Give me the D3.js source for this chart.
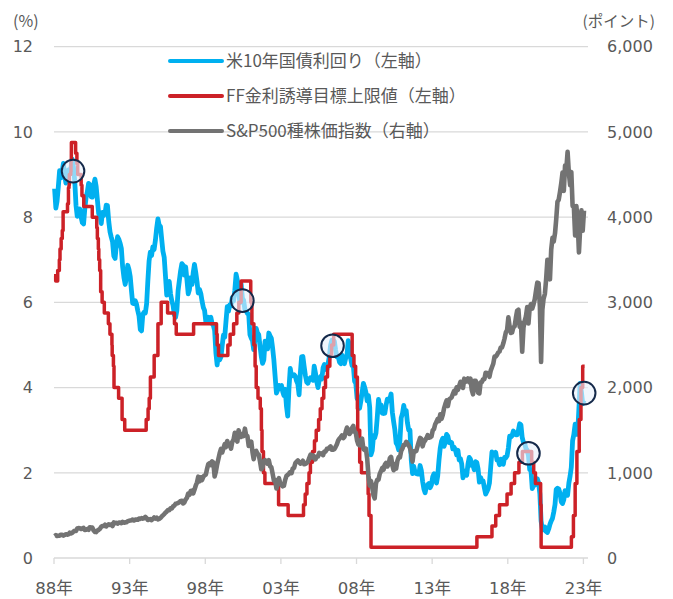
<!DOCTYPE html>
<html><head><meta charset="utf-8">
<script src="https://cdn.jsdelivr.net/npm/d3@7"></script>
<style>body{margin:0;background:#fff}svg{display:block}</style>
</head><body><svg id="c" width="673" height="599"></svg>
<script>
// ---- data ----
const seriesNames = ["米10年国債利回り（左軸）","FF金利誘導目標上限値（左軸）","S&P500種株価指数（右軸）"];
const leftTicks = [0,2,4,6,8,10,12];
const rightTicks = [0,1000,2000,3000,4000,5000,6000];
const rightTickLabels = ["0","1,000","2,000","3,000","4,000","5,000","6,000"];
const xTickYears = [1988,1993,1998,2003,2008,2013,2018,2023];
const xTickLabels = ["88年","93年","98年","03年","08年","13年","18年","23年"];
const monthlyStart = "1988-01"; // monthly series from Jan 1988 to Jan 2023

// US 10y Treasury yield, monthly (%)
const tsy10y = [
8.67,8.21,8.37,8.72,9.09,8.92,9.06,9.26,8.98,8.80,8.96,9.11,
9.09,9.17,9.36,9.18,8.86,8.28,8.02,8.11,8.19,8.01,7.87,7.84,
8.21,8.47,8.59,8.79,8.76,8.48,8.47,8.75,8.89,8.72,8.39,8.08,
8.09,7.85,8.11,8.04,8.07,8.28,8.27,7.90,7.65,7.53,7.42,7.09,
7.03,7.34,7.54,7.48,7.39,7.26,6.84,6.59,6.42,6.59,6.87,6.77,
6.60,6.26,5.98,5.97,6.04,5.96,5.81,5.68,5.36,5.33,5.72,5.77,
5.75,5.97,6.48,6.97,7.18,7.10,7.30,7.24,7.46,7.74,7.96,7.81,
7.78,7.47,7.20,7.06,6.63,6.17,6.28,6.49,6.20,6.04,5.93,5.71,
5.65,5.81,6.27,6.51,6.74,6.91,6.87,6.64,6.83,6.53,6.20,6.30,
6.58,6.42,6.69,6.89,6.71,6.49,6.22,6.30,6.21,6.03,5.88,5.81,
5.54,5.57,5.65,5.64,5.65,5.50,5.46,5.34,4.81,4.53,4.83,4.65,
4.72,5.00,5.23,5.18,5.54,5.90,5.79,5.94,5.92,6.11,6.03,6.28,
6.66,6.52,6.26,5.99,6.44,6.10,6.05,5.83,5.80,5.74,5.72,5.24,
5.16,5.10,4.89,5.14,5.39,5.28,5.24,4.97,4.73,4.57,4.65,5.09,
5.04,4.91,5.28,5.21,5.16,4.93,4.65,4.26,3.87,3.94,4.05,4.03,
4.05,3.90,3.81,3.96,3.57,3.33,3.98,4.45,4.27,4.29,4.30,4.27,
4.15,4.08,3.83,4.35,4.72,4.73,4.50,4.28,4.13,4.10,4.19,4.23,
4.22,4.17,4.50,4.34,4.14,4.00,4.18,4.26,4.20,4.46,4.54,4.47,
4.42,4.57,4.72,4.99,5.11,5.11,5.09,4.88,4.72,4.73,4.60,4.56,
4.76,4.72,4.56,4.69,4.75,5.10,5.00,4.67,4.52,4.53,4.15,4.10,
3.74,3.74,3.51,3.68,3.88,4.10,4.01,3.89,3.69,3.81,3.53,2.42,
2.52,2.87,2.82,2.93,3.29,3.72,3.56,3.59,3.40,3.39,3.40,3.59,
3.73,3.69,3.73,3.85,3.42,3.20,3.01,2.70,2.65,2.54,2.76,3.29,
3.39,3.58,3.41,3.46,3.17,3.00,3.00,2.30,1.98,2.15,2.01,1.98,
1.97,1.97,2.17,2.05,1.80,1.62,1.53,1.68,1.72,1.75,1.65,1.72,
1.91,1.98,1.96,1.76,1.93,2.30,2.58,2.74,2.81,2.62,2.72,2.90,
2.86,2.71,2.72,2.71,2.56,2.60,2.54,2.42,2.53,2.30,2.33,2.21,
1.88,1.98,2.04,1.94,2.20,2.36,2.32,2.17,2.17,2.07,2.26,2.24,
2.09,1.78,1.89,1.81,1.81,1.64,1.50,1.56,1.63,1.76,2.14,2.49,
2.43,2.42,2.48,2.30,2.30,2.19,2.32,2.21,2.20,2.36,2.35,2.40,
2.58,2.86,2.84,2.87,2.98,2.91,2.89,2.89,3.00,3.15,3.12,2.83,
2.71,2.68,2.57,2.53,2.40,2.07,2.06,1.63,1.70,1.71,1.81,1.86,
1.76,1.50,0.87,0.66,0.67,0.73,0.62,0.60,0.68,0.79,0.87,0.93,
1.08,1.26,1.61,1.64,1.62,1.52,1.32,1.28,1.37,1.58,1.56,1.47,
1.76,1.93,2.13,2.75,2.90,3.14,2.90,2.90,3.52,4.10,3.89,3.62,
3.70
];

// S&P 500 index, monthly
const spx = [
257.1,267.8,258.9,261.3,262.2,273.5,272.0,261.5,271.9,278.9,273.7,277.7,
297.5,288.9,294.9,309.6,320.5,317.9,346.1,351.5,349.2,340.4,346.0,353.4,
329.1,331.9,339.9,330.8,361.2,358.0,356.2,322.6,306.1,304.0,322.2,330.2,
343.9,367.1,375.2,375.3,389.8,371.2,387.8,395.4,387.9,392.5,375.2,417.1,
408.8,412.7,403.7,414.9,415.4,408.1,424.2,414.0,417.8,418.7,431.4,435.7,
438.8,443.4,451.7,440.2,450.2,450.5,448.1,463.6,458.9,467.8,461.8,466.5,
481.6,467.1,445.8,450.9,456.5,444.3,458.3,475.5,462.7,472.4,453.7,459.3,
470.4,487.4,500.7,514.7,533.4,544.8,562.1,561.9,584.4,581.5,605.4,615.9,
636.0,640.4,645.5,654.2,669.1,670.6,639.9,652.0,687.3,705.3,757.0,740.7,
786.2,791.0,757.1,801.3,848.3,885.1,954.3,899.5,947.3,914.6,955.4,970.4,
980.3,1049.3,1101.8,1111.8,1090.8,1133.8,1120.7,957.3,1017.0,1098.7,1163.6,1229.2,
1279.6,1238.3,1286.4,1335.2,1301.8,1372.7,1328.7,1320.4,1282.7,1362.9,1388.9,1469.3,
1394.5,1366.4,1498.6,1452.4,1420.6,1454.6,1430.8,1517.7,1436.5,1429.4,1315.2,1320.3,
1366.0,1239.9,1160.3,1249.5,1255.8,1224.4,1211.2,1133.6,1040.9,1059.8,1139.5,1148.1,
1130.2,1106.7,1147.4,1076.9,1067.1,989.8,911.6,916.1,815.3,885.8,936.3,879.8,
855.7,841.2,848.2,916.9,963.6,974.5,990.3,1008.0,996.0,1050.7,1058.2,1111.9,
1131.1,1144.9,1126.2,1107.3,1120.7,1140.8,1101.7,1104.2,1114.6,1130.2,1173.8,1211.9,
1181.3,1203.6,1180.6,1156.9,1191.5,1191.3,1234.2,1220.3,1228.8,1207.0,1249.5,1248.3,
1280.1,1280.7,1294.9,1310.6,1270.1,1270.2,1276.7,1303.8,1335.9,1377.9,1400.6,1418.3,
1438.2,1406.8,1420.9,1482.4,1530.6,1503.4,1455.3,1474.0,1526.8,1549.4,1481.1,1468.4,
1378.6,1330.6,1322.7,1385.6,1400.4,1280.0,1267.4,1282.8,1166.4,968.8,850.0,903.3,
825.9,735.1,700.0,872.8,919.1,919.3,987.5,1020.6,1057.1,1036.2,1095.6,1115.1,
1073.9,1104.5,1169.4,1186.7,1089.4,1030.7,1101.6,1049.3,1141.2,1183.3,1180.6,1257.6,
1286.1,1327.2,1325.8,1363.6,1345.2,1320.6,1292.3,1218.9,1131.4,1253.3,1247.0,1257.6,
1312.4,1365.7,1408.5,1397.9,1310.3,1362.2,1379.3,1406.6,1440.7,1412.2,1416.2,1426.2,
1498.1,1514.7,1569.2,1597.6,1630.7,1606.3,1685.7,1633.0,1681.6,1756.5,1805.8,1848.4,
1782.6,1859.5,1872.3,1884.0,1923.6,1960.2,1930.7,2003.4,1972.3,2018.1,2067.6,2058.9,
1995.0,2104.5,2067.9,2085.5,2107.4,2063.1,2103.8,1972.2,1920.0,2079.4,2080.4,2043.9,
1940.2,1932.2,2059.7,2065.3,2097.0,2098.9,2173.6,2171.0,2168.3,2126.2,2198.8,2238.8,
2278.9,2363.6,2362.7,2384.2,2411.8,2423.4,2470.3,2471.7,2519.4,2575.3,2647.6,2673.6,
2823.8,2713.8,2640.9,2648.1,2705.3,2718.4,2816.3,2901.5,2914.0,2711.7,2760.2,2420.0,
2704.1,2784.5,2834.4,2945.8,2752.1,2941.8,2980.4,2926.5,2976.7,3037.6,3141.0,3230.8,
3225.5,2954.2,2300.0,2912.4,3044.3,3100.3,3271.1,3500.3,3363.0,3270.0,3621.6,3756.1,
3714.2,3811.2,3972.9,4181.2,4204.1,4297.5,4395.3,4522.7,4307.5,4605.4,4567.0,4766.2,
4515.6,4373.9,4530.4,4131.9,4132.2,3785.4,4130.3,3955.0,3585.6,3872.0,4080.1,3839.5,
4076.6
];

// Fed funds target (upper bound), change dates and levels (%)
const ffDates = ["1988-01-01","1988-02-11","1988-03-30","1988-05-09","1988-05-25","1988-06-22","1988-07-19","1988-08-08","1988-11-22","1988-12-15","1988-12-29",
"1989-01-05","1989-02-09","1989-02-14","1989-02-23","1989-02-24","1989-06-06","1989-07-07","1989-07-27","1989-10-18","1989-11-06","1989-12-20",
"1990-07-13","1990-10-29","1990-11-13","1990-12-07","1990-12-18","1991-01-08","1991-02-01","1991-03-08","1991-04-30","1991-08-06","1991-09-13","1991-10-31","1991-11-06","1991-12-06","1991-12-20",
"1992-04-09","1992-07-02","1992-09-04","1994-02-04","1994-03-22","1994-04-18","1994-05-17","1994-08-16","1994-11-15","1995-02-01","1995-07-06","1995-12-19","1996-01-31","1997-03-25",
"1998-09-29","1998-10-15","1998-11-17","1999-06-30","1999-08-24","1999-11-16","2000-02-02","2000-03-21","2000-05-16",
"2001-01-03","2001-01-31","2001-03-20","2001-04-18","2001-05-15","2001-06-27","2001-08-21","2001-09-17","2001-10-02","2001-11-06","2001-12-11","2002-11-06","2003-06-25",
"2004-06-30","2004-08-10","2004-09-21","2004-11-10","2004-12-14","2005-02-02","2005-03-22","2005-05-03","2005-06-30","2005-08-09","2005-09-20","2005-11-01","2005-12-13",
"2006-01-31","2006-03-28","2006-05-10","2006-06-29","2007-09-18","2007-10-31","2007-12-11","2008-01-22","2008-01-30","2008-03-18","2008-04-30","2008-10-08","2008-10-29","2008-12-16",
"2015-12-17","2016-12-15","2017-03-16","2017-06-15","2017-12-14","2018-03-22","2018-06-14","2018-09-27","2018-12-20","2019-08-01","2019-09-19","2019-10-31",
"2020-03-04","2020-03-16","2022-03-17","2022-05-05","2022-06-16","2022-07-28","2022-09-22","2022-11-03","2022-12-15","2023-01-31"];
const ffUpper = [6.625,6.5,6.75,7.0,7.25,7.5,7.6875,8.125,8.3125,8.6875,8.75,
9.0,9.0625,9.3125,9.5625,9.75,9.5,9.25,9.0,8.75,8.5,8.25,
8.0,7.75,7.5,7.25,7.0,6.75,6.25,6.0,5.75,5.5,5.25,5.0,4.75,4.5,4.0,
3.75,3.25,3.0,3.25,3.5,3.75,4.25,4.75,5.5,6.0,5.75,5.5,5.25,5.5,
5.25,5.0,4.75,5.0,5.25,5.5,5.75,6.0,6.5,
6.0,5.5,5.0,4.5,4.0,3.75,3.5,3.0,2.5,2.0,1.75,1.25,1.0,
1.25,1.5,1.75,2.0,2.25,2.5,2.75,3.0,3.25,3.5,3.75,4.0,4.25,
4.5,4.75,5.0,5.25,4.75,4.5,4.25,3.5,3.0,2.25,2.0,1.5,1.0,0.25,
0.5,0.75,1.0,1.25,1.5,1.75,2.0,2.25,2.5,2.25,2.0,1.75,
1.25,0.25,0.5,1.0,1.75,2.5,3.25,4.0,4.5,4.5];

// highlighted points (circles)
const markDates = ["1989-04-05","2000-06-15","2006-06-01","2019-05-15","2023-01-20"];
const markValues = [9.08,6.04,4.98,2.46,3.87];

// ---- chart ----
const svg = d3.select("#c");
const parse = d3.timeParse("%Y-%m-%d");
const m0 = d3.timeParse("%Y-%m")(monthlyStart);
const monthDate = i => d3.timeDay.offset(d3.timeMonth.offset(m0, i), 14);

const x = d3.scaleTime().domain([new Date(1988,0,1), new Date(2023,3,22)]).range([54,588]);
const yL = d3.scaleLinear().domain([0,12]).range([558,46.7]);
const yR = d3.scaleLinear().domain([0,6000]).range([558,46.7]);

const grey = "#D9D9D9", txt = "#595959";
const numFont = "'DejaVu Sans', 'Noto Sans CJK JP', sans-serif";
const jpFont = "'Noto Sans CJK JP', 'DejaVu Sans', sans-serif";

// gridlines
svg.append("g").selectAll("line").data(leftTicks).join("line")
  .attr("x1", x.range()[0]).attr("x2", x.range()[1])
  .attr("y1", d => yL(d)).attr("y2", d => yL(d))
  .attr("stroke", grey).attr("stroke-width", 1.3);

// x axis ticks
svg.append("g").selectAll("line").data(xTickYears).join("line")
  .attr("x1", d => x(new Date(d,0,1))).attr("x2", d => x(new Date(d,0,1)))
  .attr("y1", yL(0)).attr("y2", yL(0) + 6)
  .attr("stroke", grey).attr("stroke-width", 1.3);
svg.append("g").selectAll("text").data(xTickYears).join("text")
  .attr("x", d => x(new Date(d,0,1))).attr("y", 594)
  .attr("text-anchor", "middle").attr("fill", txt)
  .style("font-family", numFont).style("font-size", "16.5px")
  .text((d,i) => xTickLabels[i]);

// left axis labels
svg.append("g").selectAll("text").data(leftTicks).join("text")
  .attr("x", 33).attr("y", d => yL(d)).attr("dy", "0.36em")
  .attr("text-anchor", "end").attr("fill", txt)
  .style("font-family", numFont).style("font-size", "16px")
  .text(d => d);
// right axis labels
svg.append("g").selectAll("text").data(rightTicks).join("text")
  .attr("x", 607).attr("y", d => yR(d)).attr("dy", "0.36em")
  .attr("text-anchor", "start").attr("fill", txt)
  .style("font-family", numFont).style("font-size", "16px")
  .text((d,i) => rightTickLabels[i]);

// axis titles
svg.append("text").attr("x", 13).attr("y", 21).attr("dy","0.36em").attr("fill", txt)
  .style("font-family", jpFont).style("font-size", "16px").text("(%)");
svg.append("text").attr("x", 655).attr("y", 21).attr("dy","0.36em").attr("fill", txt)
  .attr("text-anchor","end")
  .style("font-family", jpFont).style("font-size", "15.5px").text("(ポイント)");

// series
const colors = ["#00B0F0", "#CC2127", "#737373"];
const tsyData = tsy10y.map((v,i) => [monthDate(i), v]);
const spxData = spx.map((v,i) => [monthDate(i), v]);
const ffData = ffDates.map((d,i) => [parse(d), ffUpper[i]]);

svg.append("path").datum(tsyData)
  .attr("fill","none").attr("stroke", colors[0]).attr("stroke-width", 4.8)
  .attr("stroke-linejoin","round")
  .attr("d", d3.line().x(d => x(d[0])).y(d => yL(d[1])));
svg.append("path").datum(ffData)
  .attr("fill","none").attr("stroke", colors[1]).attr("stroke-width", 3.5)
  .attr("stroke-linejoin","round")
  .attr("d", d3.line().curve(d3.curveStepAfter).x(d => x(d[0])).y(d => yL(d[1])));
svg.append("path").datum(spxData)
  .attr("fill","none").attr("stroke", colors[2]).attr("stroke-width", 4.6)
  .attr("stroke-linejoin","round")
  .attr("d", d3.line().x(d => x(d[0])).y(d => yR(d[1])));

// highlight circles
svg.append("g").selectAll("circle").data(markDates).join("circle")
  .attr("cx", d => x(parse(d))).attr("cy", (d,i) => yL(markValues[i]))
  .attr("r", 11.3)
  .attr("fill", "rgba(232,241,251,0.62)")
  .attr("stroke", "#14294A").attr("stroke-width", 2);

// legend
const lg = svg.append("g");
const legY = [61, 96, 131];
seriesNames.forEach((n,i) => {
  lg.append("line").attr("x1",170).attr("x2",222).attr("y1",legY[i]).attr("y2",legY[i])
    .attr("stroke", colors[i]).attr("stroke-width", 4).attr("stroke-linecap","round");
  lg.append("text").attr("x",226).attr("y",legY[i]).attr("dy","0.36em").attr("fill",txt)
    .style("font-family", jpFont).style("font-size","17px").text(n);
});
</script></body></html>
